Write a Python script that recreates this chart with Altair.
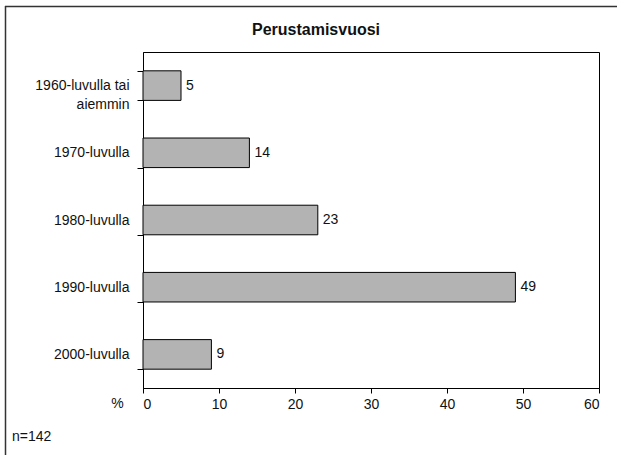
import altair as alt
import pandas as pd

# Founding decade of the respondents' organisations (share, %)
categories = [
    "1960-luvulla tai aiemmin",
    "1970-luvulla",
    "1980-luvulla",
    "1990-luvulla",
    "2000-luvulla",
]
shares = [5, 14, 23, 49, 9]
x_ticks = [0, 10, 20, 30, 40, 50, 60]
chart_title = "Perustamisvuosi"
sample_note = "n=142"

FONT = "Liberation Sans"
FS = 14
INK = "#111111"

df = pd.DataFrame({"luokka": categories, "osuus": shares})

y_enc = alt.Y(
    "luokka:N",
    sort=categories,
    scale=alt.Scale(paddingInner=0.56, paddingOuter=0.28),
    axis=alt.Axis(
        title=None,
        labelExpr=(
            "datum.value == '1960-luvulla tai aiemmin' ? "
            "['1960-luvulla tai', 'aiemmin\u00a0\u00a0\u00a0\u00a0\u00a0\u00a0\u00a0'] : datum.label"
        ),
        labelLineHeight=19,
        labelFont=FONT,
        labelFontSize=FS,
        labelColor=INK,
        labelPadding=8,
        tickBand="extent",
        tickSize=6,
        tickColor="black",
        domainColor="black",
        grid=False,
    ),
)

x_enc = alt.X(
    "osuus:Q",
    scale=alt.Scale(domain=[0, 60], nice=False),
    axis=alt.Axis(
        values=x_ticks,
        title="%",
        titleX=-26,
        titleY=15,
        titleAlign="center",
        titleBaseline="middle",
        titleFont=FONT,
        titleFontSize=FS,
        titleFontWeight="normal",
        titleColor=INK,
        labelFont=FONT,
        labelFontSize=FS,
        labelColor=INK,
        labelPadding=4,
        tickSize=5,
        tickColor="black",
        domainColor="black",
        grid=False,
    ),
)

bars = alt.Chart(df).mark_bar(
    color="#b3b3b3", stroke="black", strokeWidth=1
).encode(x=x_enc, y=y_enc)

values = alt.Chart(df).mark_text(
    align="left", baseline="middle", dx=5, font=FONT, fontSize=FS, color=INK
).encode(x="osuus:Q", y=alt.Y("luokka:N", sort=categories), text="osuus:Q")

one = pd.DataFrame({"k": [0]})

# outer chart border: only its top and left edges fall inside the canvas
border_top = alt.Chart(one).mark_rule(color="#333333", strokeWidth=1.5).encode(
    x=alt.value(-138), x2=alt.value(474), y=alt.value(-45.5)
)
border_left = alt.Chart(one).mark_rule(color="#333333", strokeWidth=1.5).encode(
    x=alt.value(-137.5), y=alt.value(-46), y2=alt.value(403)
)

heading = alt.Chart(one).mark_text(
    align="center", baseline="middle", font=FONT, fontSize=16,
    fontWeight="bold", color=INK
).encode(x=alt.value(173), y=alt.value(-22), text=alt.value(chart_title))

note = alt.Chart(one).mark_text(
    align="left", baseline="middle", font=FONT, fontSize=FS, color=INK
).encode(x=alt.value(-131), y=alt.value(385), text=alt.value(sample_note))

chart = (
    alt.layer(border_top, border_left, bars, values, heading, note)
    .properties(
        width=456,
        height=336,
        padding={"left": 143, "top": 52, "right": 18, "bottom": 67},
        autosize=alt.AutoSizeParams(type="none"),
    )
    .configure_view(stroke="black", strokeWidth=1)
)

chart.save("out.html", embed_options={"renderer": "svg", "actions": False})
